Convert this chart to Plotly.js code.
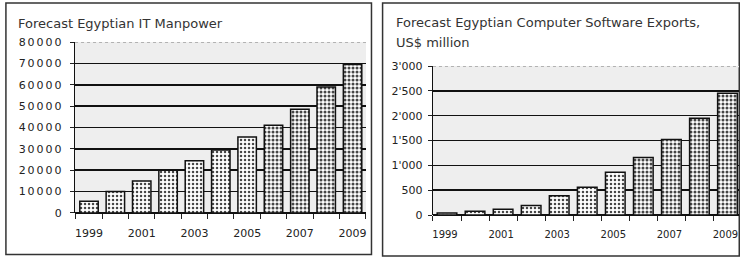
<!DOCTYPE html>
<html><head><meta charset="utf-8">
<script src="https://cdn.plot.ly/plotly-3.0.1.min.js"></script>
<style>
html,body{margin:0;padding:0;background:#fff;}
#c{width:740px;height:264px;}
.ytick text{letter-spacing:2px;}
</style>
</head><body><div id="c"></div>
<script>
// ---- data ----
const years = [1999, 2000, 2001, 2002, 2003, 2004, 2005, 2006, 2007, 2008, 2009];
const manpower = [5500, 10000, 15000, 20000, 24500, 29500, 35500, 41000, 48500, 59000, 69500];
const softwareExports = [40, 75, 115, 190, 390, 560, 860, 1160, 1520, 1950, 2450];
const yearTicks = [1999, 2001, 2003, 2005, 2007, 2009];
const leftTickVals = [0, 10000, 20000, 30000, 40000, 50000, 60000, 70000, 80000];
const leftTickText = ["0", "10000", "20000", "30000", "40000", "50000", "60000", "70000", "80000"];
const rightTickVals = [0, 500, 1000, 1500, 2000, 2500, 3000];
const rightTickText = ["0", "500", "1'000", "1'500", "2'000", "2'500", "3'000"];
const leftTitle = "Forecast Egyptian IT Manpower";
const rightTitleLine1 = "Forecast Egyptian Computer Software Exports,";
const rightTitleLine2 = "US$ million";

// ---- styles ----
const tickFont = {family: "DejaVu Sans, sans-serif", size: 11, color: "#222"};
const tickFontSmall = {family: "DejaVu Sans, sans-serif", size: 10, color: "#222"};
const titleFont = {family: "DejaVu Sans, sans-serif", size: 13, color: "#333"};
const solidity = [0.3,0.3,0.3,0.3,0.3,0.3,0.3,0.45,0.45,0.45,0.45];
function barTrace(y, xa, ya) {
  return {
    type: "bar", x: years, y: y, xaxis: xa, yaxis: ya, width: 0.7,
    marker: {color: "#fff", line: {color: "#111", width: 1.5},
      pattern: {shape: ".", fgcolor: "#444", bgcolor: "#fff", size: 4, solidity: solidity}},
    hoverinfo: "skip"
  };
}
function xAxis(domain, range, anchor, f, shift) {
  return {domain: domain, range: range, anchor: anchor, tickvals: yearTicks,
    showgrid: false, zeroline: false, showline: false, ticks: "", tickfont: f, ticklabelstandoff: 12,
    ticklabeloverflow: "allow", ticklabelshift: shift,
    minor: {tick0: 1999.5, dtick: 1, ticks: "outside", ticklen: 5, tickcolor: "#222", tickwidth: 1, showgrid: false}};
}
function yAxis(domain, range, anchor, tv, tt, standoff) {
  return {domain: domain, range: range, anchor: anchor, tickvals: tv, ticktext: tt,
    showgrid: true, gridcolor: "#111", gridwidth: 1.5, zeroline: true, zerolinecolor: "#111", zerolinewidth: 1.5,
    showline: true, linecolor: "#111", linewidth: 1.2, ticks: "outside", ticklen: 4, tickcolor: "#222",
    tickfont: tickFont, ticklabelstandoff: standoff};
}
const layout = {
  width: 740, height: 264, margin: {l: 0, r: 0, t: 0, b: 0},
  paper_bgcolor: "#fff", plot_bgcolor: "#eeeeee", showlegend: false, font: tickFont,
  xaxis: xAxis([0.1014, 0.4946], [1998.47, 2009.51], "y", tickFont, 0),
  yaxis: yAxis([0.1932, 0.8409], [0, 80000], "x", leftTickVals, leftTickText, 4),
  xaxis2: xAxis([0.5851, 0.9986], [1998.5, 2009.41], "y2", tickFontSmall, -2),
  yaxis2: yAxis([0.1856, 0.75], [0, 3000], "x2", rightTickVals, rightTickText, 3),
  annotations: [
    {text: leftTitle, xref: "paper", yref: "paper", x: 0.022, y: 1 - 23/264, xanchor: "left", yanchor: "middle", showarrow: false, font: titleFont},
    {text: rightTitleLine1, xref: "paper", yref: "paper", x: 0.533, y: 1 - 22/264, xanchor: "left", yanchor: "middle", showarrow: false, font: titleFont},
    {text: rightTitleLine2, xref: "paper", yref: "paper", x: 0.533, y: 1 - 43/264, xanchor: "left", yanchor: "middle", showarrow: false, font: titleFont}
  ],
  shapes: [
    {type: "rect", xref: "paper", yref: "paper", x0: 0.008, x1: 0.502, y0: 0.036, y1: 0.989, line: {color: "#333", width: 1.5}, layer: "below"},
    {type: "rect", xref: "paper", yref: "paper", x0: 0.517, x1: 0.999, y0: 0.030, y1: 0.989, line: {color: "#333", width: 1.5}, layer: "below"},
    {type: "line", xref: "x domain", yref: "y", x0: 0, x1: 1, y0: 80000, y1: 80000, line: {color: "#eeeeee", width: 2.5}, layer: "above"},
    {type: "line", xref: "x domain", yref: "y", x0: 0, x1: 1, y0: 80000, y1: 80000, line: {color: "#777", width: 1, dash: "dot"}, layer: "above"},
    {type: "line", xref: "x2 domain", yref: "y2", x0: 0, x1: 1, y0: 3000, y1: 3000, line: {color: "#eeeeee", width: 2.5}, layer: "above"},
    {type: "line", xref: "x2 domain", yref: "y2", x0: 0, x1: 1, y0: 3000, y1: 3000, line: {color: "#777", width: 1, dash: "dot"}, layer: "above"}
  ]
};
Plotly.newPlot("c", [barTrace(manpower, "x", "y"), barTrace(softwareExports, "x2", "y2")], layout, {staticPlot: true});
</script></body></html>
